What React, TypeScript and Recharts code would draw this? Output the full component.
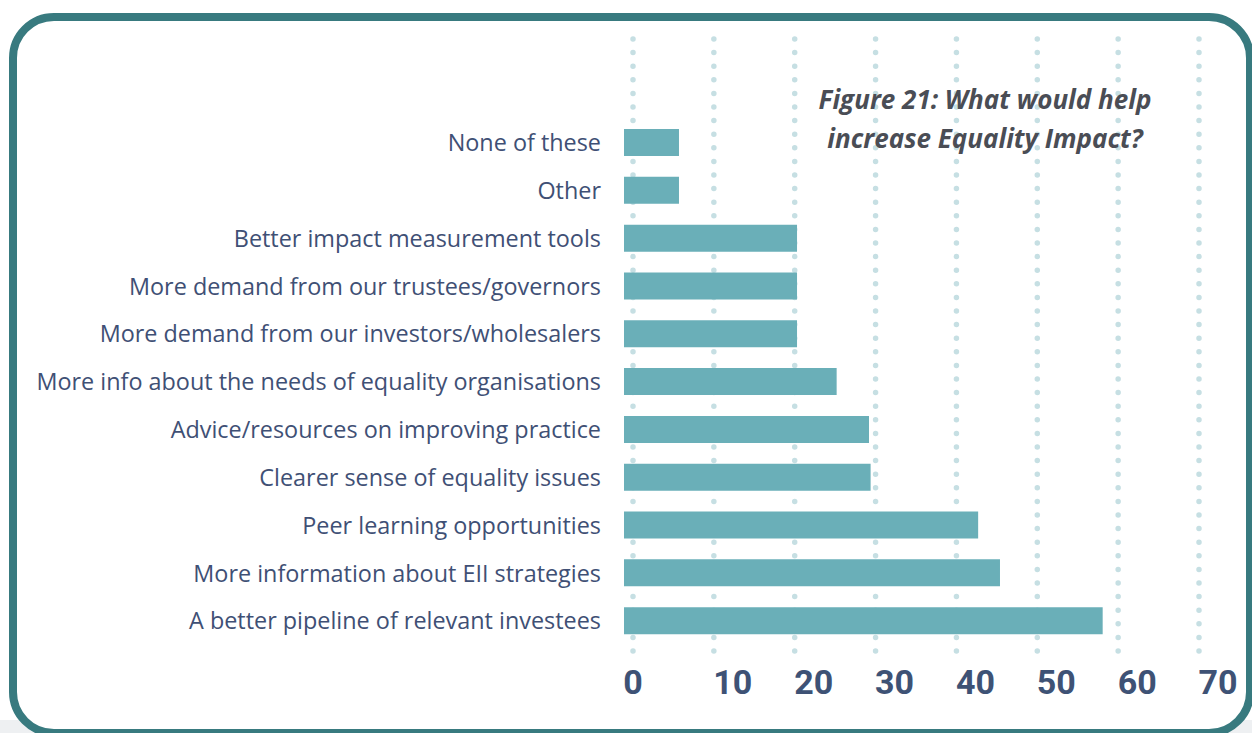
import { BarChart, Bar, XAxis, YAxis, CartesianGrid } from 'recharts';

// answers, top to bottom as drawn
const categories = [
    'None of these',
    'Other',
    'Better impact measurement tools',
    'More demand from our trustees/governors',
    'More demand from our investors/wholesalers',
    'More info about the needs of equality organisations',
    'Advice/resources on improving practice',
    'Clearer sense of equality issues',
    'Peer learning opportunities',
    'More information about EII strategies',
    'A better pipeline of relevant investees',
];
const responses = [6.8, 6.8, 21.4, 21.4, 21.4, 26.3, 30.3, 30.5, 43.8, 46.5, 59.2];
const xTicks = [0, 10, 20, 30, 40, 50, 60, 70];
const titleLines = ['Figure 21: What would help', 'increase Equality Impact?'];

const data = categories.map((name, i) => ({ name, value: responses[i] }));

const BigTick = (props: any) => {
    const { x, y, payload } = props;
    const dx = payload.value === 0 ? 0 : 19;
    return (
        <text
            x={x + dx}
            y={y}
            dy="0.71em"
            textAnchor="middle"
            fill="#3e5275"
            fontFamily="Roboto, sans-serif"
            fontWeight={700}
            fontSize={34}
        >
            {payload.value}
        </text>
    );
};

const EqualityChart = () => {
    return (
        <div style={{ position: 'absolute', left: 0, top: 0, width: 1252, height: 733, overflow: 'hidden', background: '#fff' }}>
            <div style={{ position: 'absolute', left: 0, top: 720, width: 1252, height: 13, background: '#eef0f2' }} />
            <div
                style={{
                    position: 'absolute',
                    left: 9,
                    top: 13,
                    width: 1245,
                    height: 724,
                    border: '8px solid #387a7f',
                    borderRadius: 45,
                    boxSizing: 'border-box',
                    background: '#fff',
                }}
            />
            <div style={{ position: 'absolute', left: 0, top: 0 }}>
                <BarChart
                    width={1252}
                    height={733}
                    data={data}
                    layout="vertical"
                    margin={{ top: 39, right: 53, bottom: 21, left: 0 }}
                >
                    <CartesianGrid
                        xAxisId="grid"
                        horizontal={false}
                        syncWithTicks
                        stroke="#c6dfe3"
                        strokeWidth={5.5}
                        strokeDasharray="0 13.6"
                        strokeLinecap="round"
                    />
                    <XAxis
                        xAxisId="grid"
                        type="number"
                        domain={[0, 70]}
                        allowDataOverflow
                        ticks={xTicks}
                        padding={{ left: 9, right: 0 }}
                        axisLine={false}
                        tickLine={false}
                        tickSize={0}
                        tickMargin={-12}
                        height={60}
                        tick={<BigTick />}
                    />
                    <XAxis
                        xAxisId="bar"
                        type="number"
                        domain={[0, 70]}
                        allowDataOverflow
                        padding={{ left: 0, right: 9 }}
                        hide
                    />
                    <YAxis
                        type="category"
                        dataKey="name"
                        width={624}
                        padding={{ top: 80, bottom: 7 }}
                        axisLine={false}
                        tickLine={false}
                        tickSize={0}
                        tickMargin={23}
                        interval={0}
                        tick={{ fill: '#3f5075', fontSize: 23.4, fontFamily: '"Open Sans", sans-serif' }}
                    />
                    <Bar xAxisId="bar" dataKey="value" fill="#6aafb8" barSize={27} isAnimationActive={false} />
                </BarChart>
            </div>
            <div
                style={{
                    position: 'absolute',
                    left: 785,
                    top: 80,
                    width: 400,
                    textAlign: 'center',
                    fontFamily: '"Open Sans", sans-serif',
                    fontStyle: 'italic',
                    fontWeight: 700,
                    fontSize: 26,
                    lineHeight: '39px',
                    color: '#4a4d55',
                }}
            >
                {titleLines.map((line) => (
                    <div key={line}>{line}</div>
                ))}
            </div>
        </div>
    );
};

export default EqualityChart;
